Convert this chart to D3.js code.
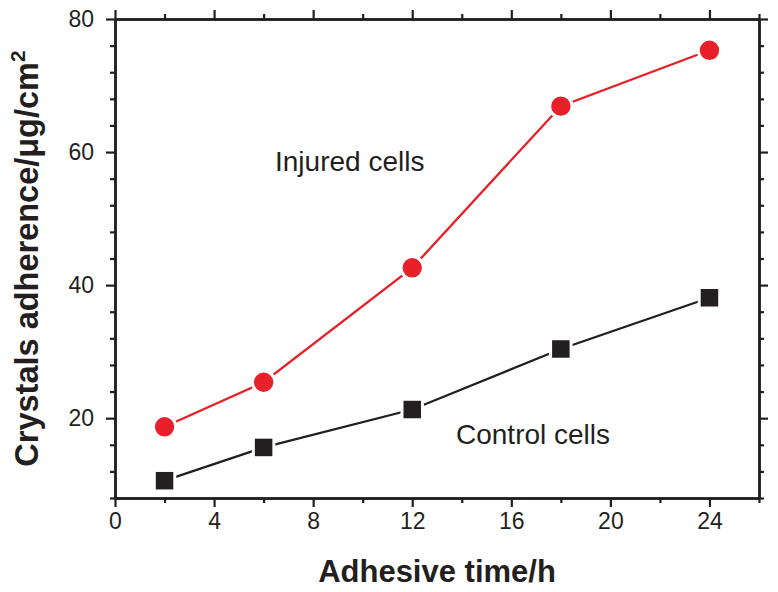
<!DOCTYPE html>
<html><head><meta charset="utf-8">
<script src="https://cdn.jsdelivr.net/npm/d3@7"></script>
<style>body{margin:0;background:#fff}svg{display:block}</style>
</head><body>
<script>
const hours = [2, 6, 12, 18, 24];
const injured = [18.7, 25.4, 42.6, 66.9, 75.3];
const control = [10.6, 15.6, 21.3, 30.4, 38.1];
const xMajorTicks = [0, 4, 8, 12, 16, 20, 24];
const xMinorTicks = [2, 6, 10, 14, 18, 22, 26];
const yMajorTicks = [20, 40, 60, 80];
const yMinorTicks = [8,12,16,24,28,32,36,44,48,52,56,64,68,72,76];

const W = 778, H = 592;
const m = {left:115, right:19, top:19, bottom:94};
const svg = d3.select("body").append("svg").attr("width", W).attr("height", H);
const x = d3.scaleLinear().domain([0, 26]).range([m.left, W - m.right]);
const y = d3.scaleLinear().domain([8, 80]).range([H - m.bottom, m.top]);
const ink = "#231f20", red = "#e8202a";
const font = "'Liberation Sans', Arial, sans-serif";

function styleAxis(g){
  g.select(".domain").attr("stroke", ink).attr("stroke-width", 2.5);
  g.selectAll(".tick line").attr("stroke", ink).attr("stroke-width", 2.2);
  g.selectAll("text").attr("fill", ink).style("font-family", font).style("font-size", "23px");
}
const x0 = H - m.bottom, y0 = m.top;
// bottom
svg.append("g").attr("transform", `translate(0,${x0})`)
  .call(d3.axisBottom(x).tickValues(xMinorTicks).tickFormat("").tickSize(5).tickSizeOuter(0)).call(styleAxis);
svg.append("g").attr("transform", `translate(0,${x0})`)
  .call(d3.axisBottom(x).tickValues(xMajorTicks).tickFormat(d3.format("d")).tickSize(9).tickPadding(6).tickSizeOuter(0)).call(styleAxis);
// top
svg.append("g").attr("transform", `translate(0,${y0})`)
  .call(d3.axisTop(x).tickValues(xMinorTicks).tickFormat("").tickSize(5).tickSizeOuter(0)).call(styleAxis);
svg.append("g").attr("transform", `translate(0,${y0})`)
  .call(d3.axisTop(x).tickValues(xMajorTicks).tickFormat("").tickSize(9).tickSizeOuter(0)).call(styleAxis);
// left
svg.append("g").attr("transform", `translate(${m.left},0)`)
  .call(d3.axisLeft(y).tickValues(yMinorTicks).tickFormat("").tickSize(5).tickSizeOuter(0)).call(styleAxis);
svg.append("g").attr("transform", `translate(${m.left},0)`)
  .call(d3.axisLeft(y).tickValues(yMajorTicks).tickFormat(d3.format("d")).tickSize(9).tickPadding(12).tickSizeOuter(0)).call(styleAxis);
// right
svg.append("g").attr("transform", `translate(${W - m.right},0)`)
  .call(d3.axisRight(y).tickValues(yMinorTicks).tickFormat("").tickSize(5).tickSizeOuter(0)).call(styleAxis);
svg.append("g").attr("transform", `translate(${W - m.right},0)`)
  .call(d3.axisRight(y).tickValues(yMajorTicks).tickFormat("").tickSize(9).tickSizeOuter(0)).call(styleAxis);

const line = d3.line().x(d => x(d[0])).y(d => y(d[1]));
const ctrlData = hours.map((h, i) => [h, control[i]]);
const injData = hours.map((h, i) => [h, injured[i]]);

svg.append("path").datum(ctrlData).attr("d", line).attr("fill", "none").attr("stroke", ink).attr("stroke-width", 2.3);
svg.append("path").datum(injData).attr("d", line).attr("fill", "none").attr("stroke", red).attr("stroke-width", 2.3);

const s = 20.5;
svg.selectAll(".sq").data(ctrlData).enter().append("rect")
  .attr("x", d => x(d[0]) - s/2).attr("y", d => y(d[1]) - s/2)
  .attr("width", s).attr("height", s).attr("fill", ink).attr("stroke", "#fff").attr("stroke-width", 3);
svg.selectAll(".ci").data(injData).enter().append("circle")
  .attr("cx", d => x(d[0])).attr("cy", d => y(d[1])).attr("r", 11.2)
  .attr("fill", red).attr("stroke", "#fff").attr("stroke-width", 3);

svg.append("text").attr("x", 275).attr("y", 171).text("Injured cells")
  .attr("fill", ink).style("font-family", font).style("font-size", "28px");
svg.append("text").attr("x", 456).attr("y", 444).text("Control cells")
  .attr("fill", ink).style("font-family", font).style("font-size", "28px");

svg.append("text").attr("x", (m.left + W - m.right) / 2).attr("y", 582).attr("text-anchor", "middle")
  .text("Adhesive time/h").attr("fill", ink).style("font-family", font).style("font-size", "31px").style("font-weight", "bold");

const yt = svg.append("text").attr("transform", `translate(38,${(m.top + H - m.bottom) / 2}) rotate(-90)`)
  .attr("text-anchor", "middle").attr("fill", ink).style("font-family", font).style("font-size", "32.5px").style("font-weight", "bold");
yt.append("tspan").text("Crystals adherence/μg/cm");
yt.append("tspan").attr("dy", -13).style("font-size", "21px").text("2");
</script>
</body></html>
